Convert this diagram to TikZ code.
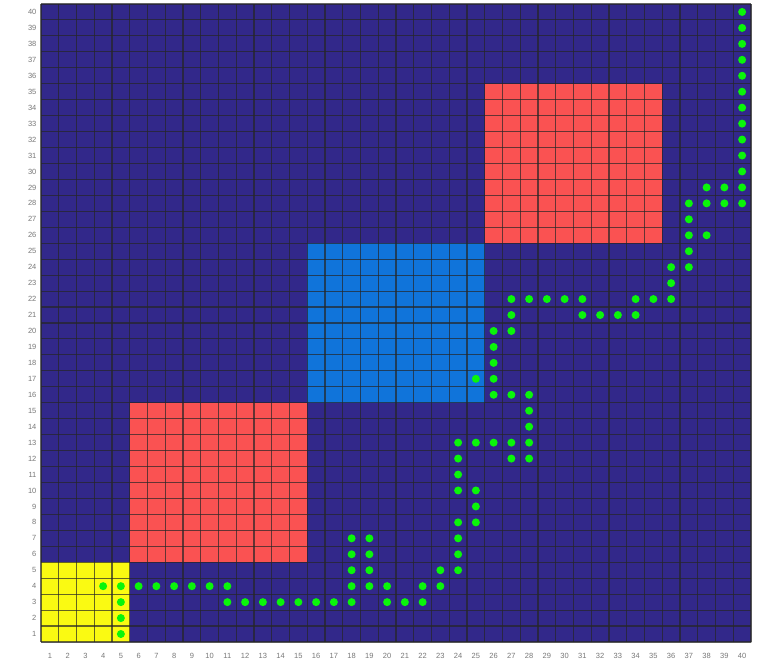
\documentclass[tikz,border=0pt]{standalone}
\usepackage{fontspec}
\setmainfont{Liberation Sans}
\definecolor{navy}{RGB}{50,40,138}
\definecolor{cellred}{RGB}{250,82,82}
\definecolor{cellblue}{RGB}{16,116,218}
\definecolor{cellyellow}{RGB}{250,250,18}
\definecolor{dotgreen}{RGB}{10,245,10}
\definecolor{labelgray}{RGB}{120,120,120}
\tikzset{
  gridline/.style={draw=black!85, line width=1.1pt, opacity=0.7},
  pathdot/.style={circle, fill=dotgreen, inner sep=0pt, minimum size=8pt},
  ticklabel/.style={font=\fontsize{7.5}{8}\selectfont, text=labelgray, inner sep=0pt},
  frame/.style={draw=black!20, line width=0.8pt}
}
\begin{document}
\begin{tikzpicture}[x=1pt,y=1pt]
\useasboundingbox (0,0) rectangle (760,661);
\fill[white] (0,0) rectangle (760,661);
\begin{scope}[shift={(41pt,19pt)}, x=17.75pt, y=15.95pt]
  \draw[frame] (0,0) rectangle (40,40);
  \fill[navy] (0,0) rectangle (40,40);
  \fill[cellyellow] (0,0) rectangle (5,5);
  \fill[cellred] (5,5) rectangle (15,15);
  \fill[cellblue] (15,15) rectangle (25,25);
  \fill[cellred] (25,25) rectangle (35,35);
  \foreach \k in {0,...,40} {
    \draw[gridline] (\k,0) -- (\k,40);
    \draw[gridline] (0,\k) -- (40,\k);
  }
  \foreach \k in {1,...,40} {
    \node[ticklabel, anchor=east] (yl\k) at (-0.25,\k-0.5) {\k};
    \node[ticklabel, anchor=base] (xl\k) at (\k-0.5,-1.05) {\k};
  }
  \foreach \c/\r in {
    5/1, 5/2,
    5/3, 11/3, 12/3, 13/3, 14/3, 15/3, 16/3, 17/3, 18/3, 20/3, 21/3, 22/3,
    4/4, 5/4, 6/4, 7/4, 8/4, 9/4, 10/4, 11/4, 18/4, 19/4, 20/4, 22/4, 23/4,
    18/5, 19/5, 23/5, 24/5,
    18/6, 19/6, 24/6,
    18/7, 19/7, 24/7,
    24/8, 25/8,
    25/9,
    24/10, 25/10,
    24/11,
    24/12, 27/12, 28/12,
    24/13, 25/13, 26/13, 27/13, 28/13,
    28/14, 28/15,
    26/16, 27/16, 28/16,
    25/17, 26/17,
    26/18, 26/19,
    26/20, 27/20,
    27/21, 31/21, 32/21, 33/21, 34/21,
    27/22, 28/22, 29/22, 30/22, 31/22, 34/22, 35/22, 36/22,
    36/23,
    36/24, 37/24,
    37/25,
    37/26, 38/26,
    37/27,
    37/28, 38/28, 39/28, 40/28,
    38/29, 39/29, 40/29,
    40/30, 40/31, 40/32, 40/33, 40/34, 40/35, 40/36, 40/37, 40/38, 40/39, 40/40} {
    \node[pathdot] (d\c-\r) at (\c-0.5,\r-0.5) {};
  }
\end{scope}
\end{tikzpicture}
\end{document}
